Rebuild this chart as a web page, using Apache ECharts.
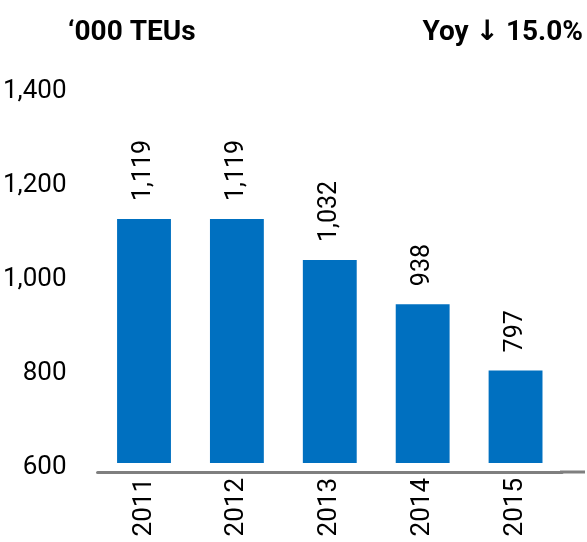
<!DOCTYPE html>
<html>
<head>
<meta charset="utf-8">
<script src="https://cdn.jsdelivr.net/npm/echarts@6/dist/echarts.min.js"></script>
<style>
  html, body { margin: 0; padding: 0; background: #fff; }
  #chart { width: 587px; height: 542px; }
</style>
</head>
<body>
<div id="chart"></div>
<script>
// data
var years = ["2011", "2012", "2013", "2014", "2015"];
var teus = [1119, 1119, 1032, 938, 797];
var yTicks = { min: 600, max: 1400, step: 200 };

var font = "Roboto, 'DejaVu Sans', sans-serif";
var myChart = echarts.init(document.getElementById("chart"));

var option = {
  animation: false,
  grid: { left: 96, right: 25, top: 87, bottom: 79 },
  graphic: [
    {
      type: "text",
      left: 68,
      top: 19,
      style: { text: "\u2018000 TEUs", font: "bold 28px " + font, fill: "#000" }
    },
    {
      type: "text",
      right: 4,
      top: 19,
      style: { text: "Yoy \u2193 15.0%", font: "bold 28px " + font, fill: "#000" }
    },
    {
      // axis line runs a little past the plot on the right
      type: "line",
      shape: { x1: 560, y1: 472, x2: 585, y2: 472 },
      style: { stroke: "#7f7f7f", lineWidth: 3 }
    }
  ],
  xAxis: {
    type: "category",
    data: years,
    offset: 9,
    axisLine: { lineStyle: { color: "#7f7f7f", width: 3 } },
    axisTick: { show: false },
    axisLabel: {
      rotate: 90,
      margin: 6,
      color: "#000",
      fontSize: 26,
      fontFamily: font
    }
  },
  yAxis: {
    type: "value",
    min: yTicks.min,
    max: yTicks.max,
    interval: yTicks.step,
    splitLine: { show: false },
    axisLine: { show: false },
    axisTick: { show: false },
    axisLabel: {
      margin: 31,
      color: "#000",
      fontSize: 26,
      fontFamily: font,
      formatter: function (v) {
        return "{t|" + v.toLocaleString("en-US") + "}";
      },
      rich: {
        t: { fontSize: 26, fontFamily: font, color: "#000", padding: [8, 0, 0, 0] }
      }
    }
  },
  series: [
    {
      type: "bar",
      data: teus,
      barWidth: "58%",
      itemStyle: { color: "#0070C0" },
      label: {
        show: true,
        position: "top",
        rotate: 90,
        align: "left",
        verticalAlign: "middle",
        distance: 18,
        color: "#000",
        fontSize: 25,
        fontFamily: font,
        formatter: function (p) {
          return p.value.toLocaleString("en-US");
        }
      }
    }
  ]
};

myChart.setOption(option);
window.addEventListener("resize", function () {
  myChart.resize();
});
</script>
</body>
</html>
